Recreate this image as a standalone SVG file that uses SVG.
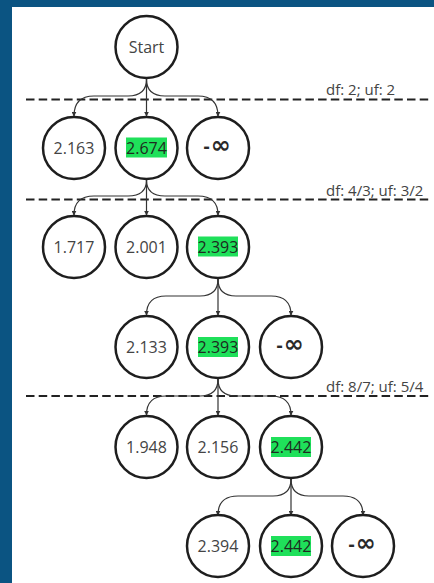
<svg xmlns="http://www.w3.org/2000/svg" width="434" height="583" viewBox="0 0 434 583">
<defs>
<style>
.node circle{fill:#fff;stroke:#1e1e1e;stroke-width:2.5}
.node text{font-family:"Open Sans","Liberation Sans",sans-serif;font-size:16px;fill:#444;text-anchor:middle;dominant-baseline:central}
.node text.hi{fill:#1e2a20}
.node rect{fill:#1fe05a}
.node text.inf{text-anchor:start;dominant-baseline:auto;fill:#2a2a2a}
.inf .m{font-family:"Open Sans","Liberation Sans",sans-serif;font-size:19px;font-weight:bold}
.inf .i{font-family:"DejaVu Sans",sans-serif;font-size:24px;font-weight:bold}
.dash{stroke:#222;stroke-width:2;stroke-dasharray:8.5 4.2;fill:none}
.lbl{font-family:"Open Sans","Liberation Sans",sans-serif;font-size:15px;fill:#444}
#connectors path{fill:none;stroke:#333;stroke-width:1.2;marker-end:url(#ah)}
</style>
<marker id="ah" viewBox="0 0 8 8" refX="7" refY="4" markerWidth="5" markerHeight="5" orient="auto" markerUnits="userSpaceOnUse">
<path d="M0,0 L8,4 L0,8 z" fill="#333"/>
</marker>
</defs>
<rect x="0" y="0" width="434" height="583" fill="#0b5482"/>
<rect x="12" y="7" width="422" height="576" fill="#fff"/>

<g id="dividers">
<line class="dash" x1="26" y1="99.5" x2="432" y2="99.5"/>
<line class="dash" x1="26" y1="199.5" x2="432" y2="199.5"/>
<line class="dash" x1="26" y1="396" x2="432" y2="396"/>
<text class="lbl" x="326" y="95">df: 2; uf: 2</text>
<text class="lbl" x="326" y="196">df: 4/3; uf: 3/2</text>
<text class="lbl" x="326" y="392">df: 8/7; uf: 5/4</text>
</g>

<g id="connectors">
<path d="M146.5,79 Q146.5,96 128,96 L94,96 Q74,96 74,116"/>
<path d="M146.5,79 L146.5,116"/>
<path d="M146.5,79 Q146.5,96 165,96 L198,96 Q218,96 218,116"/>

<path d="M146.5,180 Q146.5,196 128,196 L94,196 Q74,196 74,215"/>
<path d="M146.5,180 L146.5,215"/>
<path d="M146.5,180 Q146.5,196 165,196 L198,196 Q218,196 218,215"/>

<path d="M218,279 Q218,296 200,296 L166,296 Q146.5,296 146.5,315"/>
<path d="M218,279 L218,315"/>
<path d="M218,279 Q218,296 236,296 L271,296 Q291,296 291,315"/>

<path d="M218,379 Q218,396 200,396 L166,396 Q146.5,396 146.5,415"/>
<path d="M218,379 L218,415"/>
<path d="M218,379 Q218,396 236,396 L271,396 Q291,396 291,415"/>

<path d="M291,479 Q291,496 273,496 L238,496 Q218,496 218,515"/>
<path d="M291,479 L291,515"/>
<path d="M291,479 Q291,496 309,496 L343,496 Q363,496 363,515"/>
</g>

<g id="n-start" class="node"><circle cx="146.5" cy="47" r="31"/><text x="146.5" y="47">Start</text></g>

<g id="n-2163" class="node"><circle cx="74" cy="148" r="31"/><text x="74" y="148">2.163</text></g>
<g id="n-2674" class="node"><circle cx="146.5" cy="148" r="31"/><rect x="126" y="137.5" width="41" height="20"/><text class="hi" x="146.5" y="148">2.674</text></g>
<g id="n-inf1" class="node"><circle cx="218" cy="148" r="31"/><text class="inf" x="203.5" y="153"><tspan class="m">-</tspan><tspan class="i" dx="1">∞</tspan></text></g>

<g id="n-1717" class="node"><circle cx="74" cy="247" r="31"/><text x="74" y="247">1.717</text></g>
<g id="n-2001" class="node"><circle cx="146.5" cy="247" r="31"/><text x="146.5" y="247">2.001</text></g>
<g id="n-2393a" class="node"><circle cx="218" cy="247" r="31"/><rect x="198" y="236.5" width="40" height="20"/><text class="hi" x="218" y="247">2.393</text></g>

<g id="n-2133" class="node"><circle cx="146.5" cy="347" r="31"/><text x="146.5" y="347">2.133</text></g>
<g id="n-2393b" class="node"><circle cx="218" cy="347" r="31"/><rect x="198" y="337" width="40" height="20"/><text class="hi" x="218" y="347">2.393</text></g>
<g id="n-inf2" class="node"><circle cx="291" cy="347" r="31"/><text class="inf" x="276.5" y="352"><tspan class="m">-</tspan><tspan class="i" dx="1">∞</tspan></text></g>

<g id="n-1948" class="node"><circle cx="146.5" cy="447" r="31"/><text x="146.5" y="447">1.948</text></g>
<g id="n-2156" class="node"><circle cx="218" cy="447" r="31"/><text x="218" y="447">2.156</text></g>
<g id="n-2442a" class="node"><circle cx="291" cy="447" r="31"/><rect x="271" y="437" width="40" height="20"/><text class="hi" x="291" y="447">2.442</text></g>

<g id="n-2394" class="node"><circle cx="218" cy="546" r="31"/><text x="218" y="546">2.394</text></g>
<g id="n-2442b" class="node"><circle cx="291" cy="546" r="31"/><rect x="271" y="536" width="40" height="20"/><text class="hi" x="291" y="546">2.442</text></g>
<g id="n-inf3" class="node"><circle cx="363" cy="546" r="31"/><text class="inf" x="348.5" y="551"><tspan class="m">-</tspan><tspan class="i" dx="1">∞</tspan></text></g>
</svg>
